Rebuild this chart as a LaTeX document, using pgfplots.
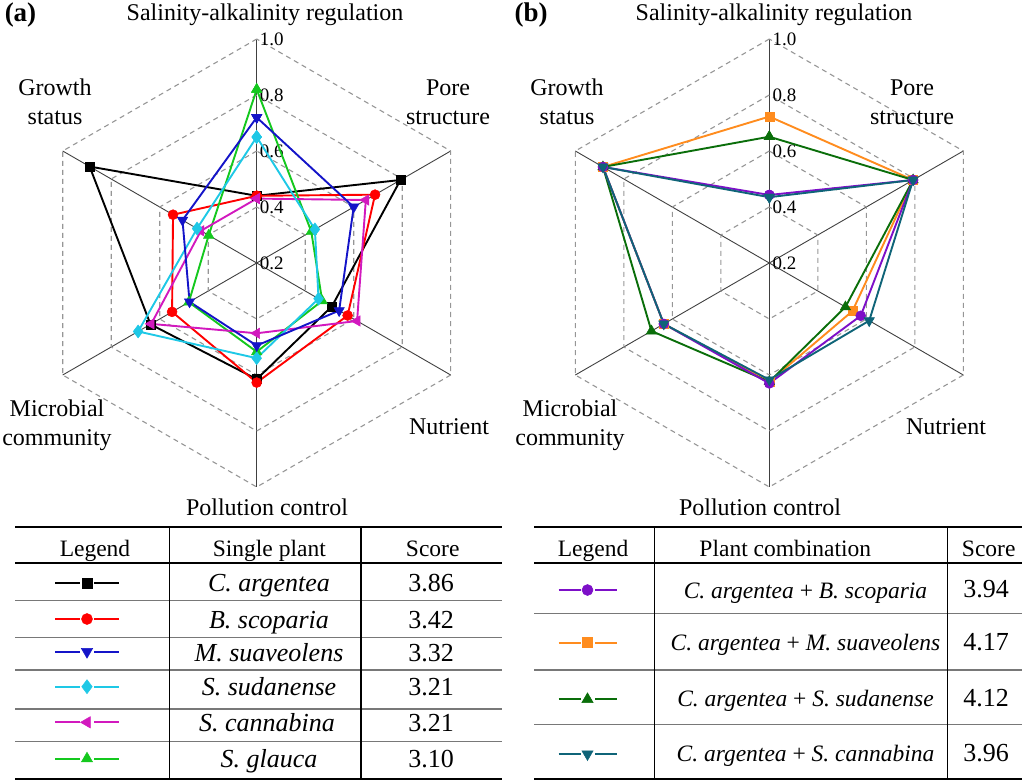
\documentclass[border=0pt]{standalone}
\usepackage{fontspec}
\setmainfont{Liberation Serif}
\usepackage{pgfplots}
\pgfplotsset{compat=1.18}
\usepackage{pgfplotstable}

\definecolor{cred}{RGB}{255,0,0}
\definecolor{cblue}{RGB}{20,20,200}
\definecolor{ccyan}{RGB}{30,200,230}
\definecolor{cmag}{RGB}{210,25,190}
\definecolor{cgreen}{RGB}{20,200,30}
\definecolor{cpurple}{RGB}{125,15,200}
\definecolor{corange}{RGB}{255,140,30}
\definecolor{cdgreen}{RGB}{10,110,10}
\definecolor{cteal}{RGB}{15,100,120}
\definecolor{gridgray}{RGB}{150,150,150}
\definecolor{rowgray}{RGB}{120,120,120}

% single plants: angle, then one column per plant
\pgfplotstableread{
a     ca     bs     ms     ss     sc     sg
90    0.440  0.440  0.720  0.650  0.430  0.820
30    0.793  0.688  0.600  0.440  0.650  0.425
-30   0.510  0.575  0.540  0.455  0.614  0.470
-90   0.615  0.627  0.495  0.540  0.451  0.517
-150  0.638  0.549  0.477  0.689  0.635  0.480
150   0.889  0.545  0.506  0.446  0.430  0.398
90    0.440  0.440  0.720  0.650  0.430  0.820
}\single

% plant combinations
\pgfplotstableread{
a     cb     cm     cs     cc
90    0.443  0.723  0.651  0.435
30    0.793  0.793  0.793  0.793
-30   0.577  0.543  0.514  0.612
-90   0.630  0.624  0.624  0.617
-150  0.635  0.635  0.686  0.635
150   0.886  0.886  0.886  0.886
90    0.443  0.723  0.651  0.435
}\combo

\pgfplotsset{
  radar/.style={scale only axis, x=280pt, y=280pt,
    xmin=-0.8, xmax=0.8, ymin=-0.8, ymax=0.8,
    hide axis, clip=false, anchor=center},
  gridline/.style={gridgray, line width=1.1pt, dash pattern=on 5pt off 4pt},
  spoke/.style={black!75, line width=0.9pt},
}

% #1 table, #2 column, #3 colour, #4 mark keys, #5 extra mark options
\newcommand\radarplot[5]{%
  \addplot[#3, line width=1.9pt, #4, mark options={solid, line width=0.5pt, #5}]
    table[x expr={(\thisrow{#2}-0.2)*cos(\thisrow{a})},
          y expr={(\thisrow{#2}-0.2)*sin(\thisrow{a})}] {#1};
}

% #1 colour, #2 mark keys, #3 mark options, #4..#7 segment x, #8 mark x, #9 y
\newcommand\legicon[9]{%
  \addplot[#1, line width=1.8pt] coordinates {(#4,#9) (#5,#9)};
  \addplot[#1, line width=1.8pt] coordinates {(#6,#9) (#7,#9)};
  \addplot[#1, only marks, #2, mark options={line width=0.5pt, #3}] coordinates {(#8,#9)};
}

\newcommand\radargrid{%
  \pgfplotsinvokeforeach{90,30,-30,-90,-150,150}{%
    \addplot[spoke, data cs=polar] coordinates {(##1,0) (##1,0.8)};}
  \pgfplotsinvokeforeach{0.2,0.4,0.6,0.8}{%
    \addplot[gridline, data cs=polar] coordinates
      {(90,##1) (150,##1) (210,##1) (270,##1) (330,##1) (30,##1) (90,##1)};}
  \node[ticklab] at (axis cs:0,0.8) {1.0};
  \node[ticklab] at (axis cs:0,0.6) {0.8};
  \node[ticklab] at (axis cs:0,0.4) {0.6};
  \node[ticklab] at (axis cs:0,0.2) {0.4};
  \node[ticklab] at (axis cs:0,0.0) {0.2};
}

\begin{document}
\begin{tikzpicture}[
  lab/.style={font=\fontsize{24}{28.7}\selectfont, align=center},
  ticklab/.style={font=\fontsize{19}{22}\selectfont, anchor=west, xshift=2pt, inner sep=1pt},
  panel/.style={font=\bfseries\fontsize{27}{30}\selectfont},
  head/.style={font=\fontsize{23.5}{27}\selectfont, anchor=base},
  body/.style={font=\fontsize{26}{30}\selectfont, anchor=base},
  bodyit/.style={font=\itshape\fontsize{26}{30}\selectfont, anchor=base},
  bodyitr/.style={font=\itshape\fontsize{23.5}{27}\selectfont, anchor=base},
  thick rule/.style={black, line width=2.4pt},
  mid rule/.style={black, line width=2pt},
  row rule/.style={rowgray, line width=1.5pt},
  col rule/.style={black, line width=1.5pt},
]
\path[use as bounding box] (0pt,0pt) rectangle (1024pt,-783pt);

% ---------- page layer: labels and tables, in pixel units ----------
\begin{axis}[at={(0pt,0pt)}, anchor=north west, scale only axis,
  width=1024pt, height=783pt, xmin=0, xmax=1024, ymin=0, ymax=783,
  y dir=reverse, hide axis, clip=false]

\node[panel] at (axis cs:20.5,15) {(a)};
\node[panel] at (axis cs:531,15) {(b)};

\node[lab] at (axis cs:265,15) {Salinity-alkalinity regulation};
\node[lab] at (axis cs:55,102) {Growth\\status};
\node[lab] at (axis cs:448,102) {Pore\\structure};
\node[lab] at (axis cs:57,425) {Microbial\\community};
\node[lab] at (axis cs:449,427) {Nutrient};
\node[lab] at (axis cs:267,507) {Pollution control};

\node[lab] at (axis cs:774,15) {Salinity-alkalinity regulation};
\node[lab] at (axis cs:567,102) {Growth\\status};
\node[lab] at (axis cs:912,102) {Pore\\structure};
\node[lab] at (axis cs:570,425) {Microbial\\community};
\node[lab] at (axis cs:946,427) {Nutrient};
\node[lab] at (axis cs:760,507) {Pollution control};

% left table
\draw[thick rule] (axis cs:15,526.7) -- (axis cs:502,526.7);
\draw[mid rule] (axis cs:15,563.3) -- (axis cs:502,563.3);
\pgfplotsinvokeforeach{600.7,637.3,670,709,741.7}{%
  \draw[row rule] (axis cs:15,#1) -- (axis cs:502,#1);}
\draw[thick rule] (axis cs:15,779) -- (axis cs:502,779);
\draw[col rule] (axis cs:169.3,526.7) -- (axis cs:169.3,779);
\draw[col rule] (axis cs:361,526.7) -- (axis cs:361,779);

\node[head] at (axis cs:95,556.7) {Legend};
\node[head] at (axis cs:269.3,556.7) {Single plant};
\node[head] at (axis cs:432.7,556.7) {Score};

\node[bodyit] at (axis cs:269,591) {C. argentea};
\node[bodyit] at (axis cs:269,628.3) {B. scoparia};
\node[bodyit] at (axis cs:269,661.7) {M. suaveolens};
\node[bodyit] at (axis cs:269,695) {S. sudanense};
\node[bodyit] at (axis cs:267,731.7) {S. cannabina};
\node[bodyit] at (axis cs:269,767.3) {S. glauca};
\node[body] at (axis cs:431,591) {3.86};
\node[body] at (axis cs:431,628.3) {3.42};
\node[body] at (axis cs:431,661.7) {3.32};
\node[body] at (axis cs:431,695) {3.21};
\node[body] at (axis cs:431,731.7) {3.21};
\node[body] at (axis cs:431,767.3) {3.10};

\legicon{black}{mark=square*, mark size=5pt}{}{55}{80}{94}{119}{87}{583.3}
\legicon{cred}{mark=*, mark size=5.5pt}{}{55}{80}{94}{119}{87}{619}
\legicon{cblue}{mark=triangle*, mark size=6.5pt}{rotate=180}{55}{80}{94}{119}{87}{651.7}
\legicon{ccyan}{mark=diamond*, mark size=7pt}{}{55}{80}{94}{119}{87}{686.7}
\legicon{cmag}{mark=triangle*, mark size=6.5pt}{rotate=90}{55}{80}{94}{119}{87}{722.3}
\legicon{cgreen}{mark=triangle*, mark size=6.5pt}{}{55}{80}{94}{119}{87}{758.7}

% right table
\draw[thick rule] (axis cs:534.3,526.7) -- (axis cs:1022,526.7);
\draw[mid rule] (axis cs:534.3,563.3) -- (axis cs:1022,563.3);
\pgfplotsinvokeforeach{613.3,670,724.3}{%
  \draw[row rule] (axis cs:534.3,#1) -- (axis cs:1022,#1);}
\draw[thick rule] (axis cs:534.3,779) -- (axis cs:1022,779);
\draw[col rule] (axis cs:654.3,526.7) -- (axis cs:654.3,779);
\draw[col rule] (axis cs:947.7,526.7) -- (axis cs:947.7,779);

\node[head] at (axis cs:593,556) {Legend};
\node[head] at (axis cs:785.3,556) {Plant combination};
\node[head] at (axis cs:988.7,556) {Score};

\node[bodyitr] at (axis cs:805.5,598) {C. argentea \textup{+} B. scoparia};
\node[bodyitr] at (axis cs:805.5,650.5) {C. argentea \textup{+} M. suaveolens};
\node[bodyitr] at (axis cs:805.5,706.5) {C. argentea \textup{+} S. sudanense};
\node[bodyitr] at (axis cs:805.5,761) {C. argentea \textup{+} S. cannabina};
\node[body] at (axis cs:986,597.7) {3.94};
\node[body] at (axis cs:986,650) {4.17};
\node[body] at (axis cs:986,706) {4.12};
\node[body] at (axis cs:986,761) {3.96};

\legicon{cpurple}{mark=*, mark size=5.5pt}{}{558.5}{581}{595}{616.5}{587.5}{590}
\legicon{corange}{mark=square*, mark size=5pt}{}{558.5}{581}{595}{616.5}{587.5}{642.7}
\legicon{cdgreen}{mark=triangle*, mark size=6.5pt}{}{558.5}{581}{595}{616.5}{587.5}{699.3}
\legicon{cteal}{mark=triangle*, mark size=6.5pt}{rotate=180}{558.5}{581}{595}{616.5}{587.5}{754}
\end{axis}

% ---------- (a) single plants ----------
\begin{axis}[radar, at={(256.7pt,-263pt)}]
\radargrid
\radarplot{\single}{ca}{black}{mark=square*, mark size=4.5pt}{}
\radarplot{\single}{bs}{cred}{mark=*, mark size=5pt}{}
\radarplot{\single}{sg}{cgreen}{mark=triangle*, mark size=6pt}{}
\radarplot{\single}{sc}{cmag}{mark=triangle*, mark size=6pt}{rotate=90}
\radarplot{\single}{ss}{ccyan}{mark=diamond*, mark size=6.5pt}{}
\radarplot{\single}{ms}{cblue}{mark=triangle*, mark size=6pt}{rotate=180}
\end{axis}

% ---------- (b) plant combinations ----------
\begin{axis}[radar, at={(769.3pt,-263pt)}]
\radargrid
\radarplot{\combo}{cm}{corange}{mark=square*, mark size=4.5pt}{}
\radarplot{\combo}{cs}{cdgreen}{mark=triangle*, mark size=6pt}{}
\radarplot{\combo}{cb}{cpurple}{mark=*, mark size=5pt}{}
\radarplot{\combo}{cc}{cteal}{mark=triangle*, mark size=6pt}{rotate=180}
\end{axis}
\end{tikzpicture}
\end{document}
